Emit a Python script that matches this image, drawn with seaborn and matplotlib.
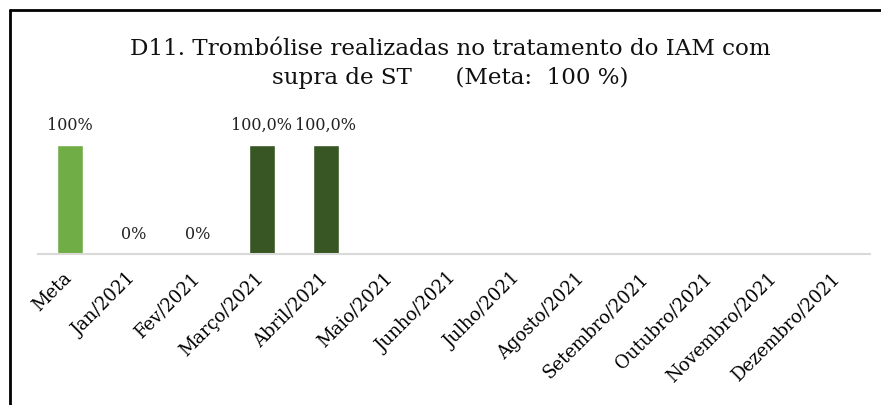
import matplotlib
matplotlib.use("Agg")
import matplotlib.pyplot as plt
from matplotlib.lines import Line2D
import matplotlib.transforms as mtransforms
import seaborn as sns
import pandas as pd
import numpy as np

categories = ["Meta", "Jan/2021", "Fev/2021", "Março/2021", "Abril/2021", "Maio/2021",
              "Junho/2021", "Julho/2021", "Agosto/2021", "Setembro/2021", "Outubro/2021",
              "Novembro/2021", "Dezembro/2021"]
values = [1.0, 0.0, 0.0, 1.0, 1.0, np.nan, np.nan, np.nan, np.nan, np.nan, np.nan, np.nan, np.nan]
value_labels = ["100%", "0%", "0%", "100,0%", "100,0%", "", "", "", "", "", "", "", ""]
title = "D11. Trombólise realizadas no tratamento do IAM com\nsupra de ST      (Meta:  100 %)"

meta_color = "#70AD47"
month_color = "#375623"

sns.set_theme(style="white")
plt.rcParams["font.family"] = ["DejaVu Serif"]

df = pd.DataFrame({"cat": categories, "val": values})
palette = {c: (meta_color if c == "Meta" else month_color) for c in categories}

fig = plt.figure(figsize=(8.81, 4.05), dpi=100)
ax = fig.add_axes([0.043, 0.3728, 0.9445, 0.3235])
sns.barplot(data=df, x="cat", y="val", hue="cat", palette=palette, order=categories,
            width=0.4, legend=False, ax=ax, saturation=1)
ax.set_ylim(0, 1.2)
ax.set_xlim(-0.5, len(categories) - 0.5)
ax.set_yticks([])
ax.set_xlabel("")
ax.set_ylabel("")
for s in ["top", "right", "left"]:
    ax.spines[s].set_visible(False)
ax.spines["bottom"].set_color("#D9D9D9")
ax.spines["bottom"].set_linewidth(1.5)
ax.tick_params(axis="x", length=0, pad=11)
ax.set_xticks(range(len(categories)))
ax.set_xticklabels(categories, rotation=45, ha="right", va="top", rotation_mode="anchor",
                   fontsize=13, color="black")
shift = mtransforms.ScaledTranslation(-7 / 100, 0, fig.dpi_scale_trans)
for lbl in ax.get_xticklabels():
    lbl.set_transform(lbl.get_transform() + shift)

for i, (v, lab) in enumerate(zip(values, value_labels)):
    if lab:
        ax.annotate(lab, (i, v), xytext=(0, 8), textcoords="offset points",
                    ha="center", va="bottom", fontsize=11.5, color="#222222")

fig.text(0.511, 0.905, title, ha="center", va="top", fontsize=16.6, color="#111111",
         linespacing=1.4)

fig.add_artist(Line2D([0.011, 0.011], [0, 0.975], transform=fig.transFigure, color="black", lw=2))
fig.add_artist(Line2D([0.011, 1.0], [0.975, 0.975], transform=fig.transFigure, color="black", lw=2))

fig.savefig("out.png", dpi=100)
